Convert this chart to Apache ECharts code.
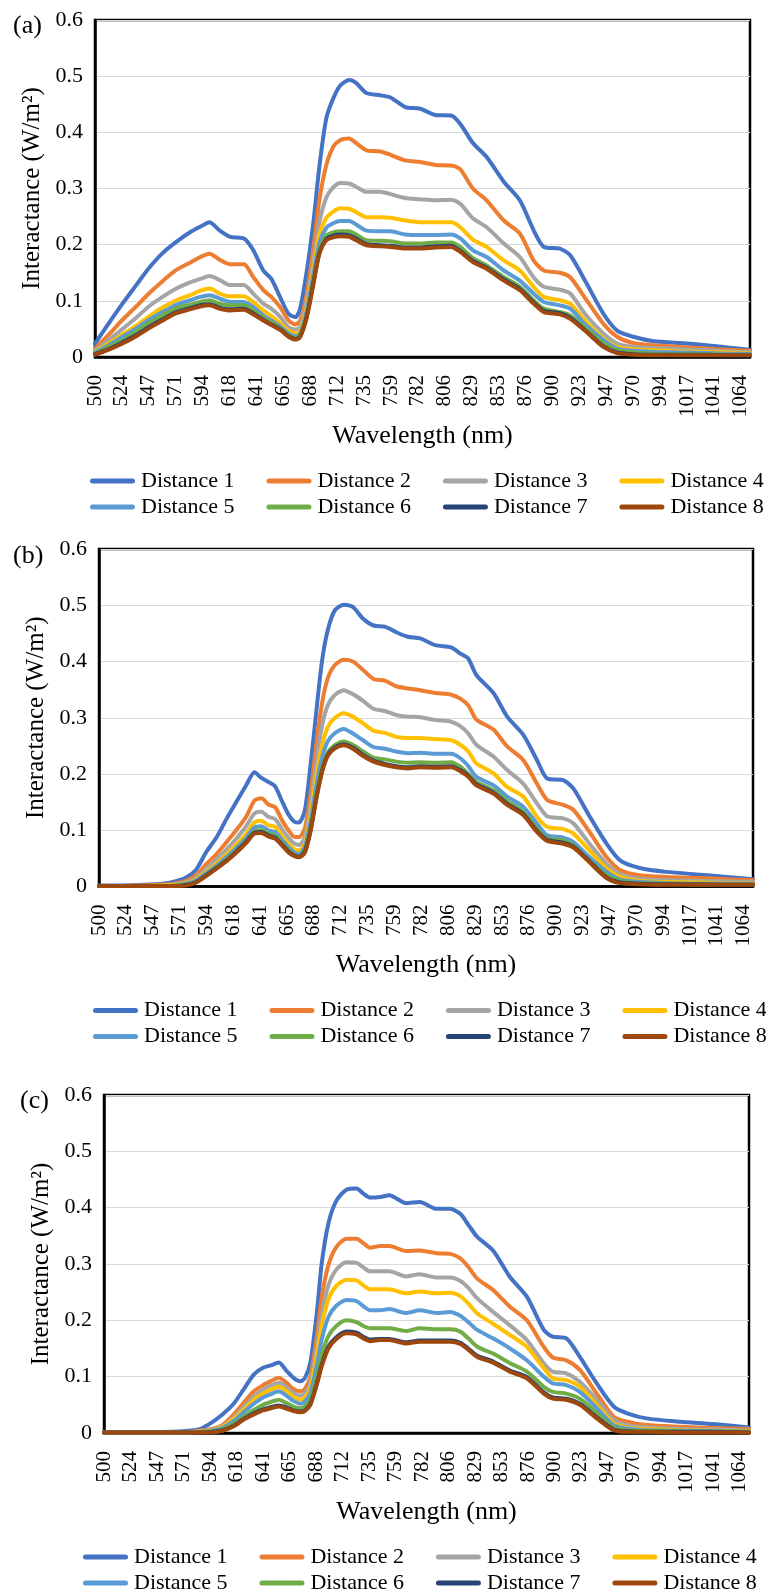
<!DOCTYPE html>
<html>
<head>
<meta charset="utf-8">
<title>Interactance spectra</title>
<script src="https://cdn.jsdelivr.net/npm/echarts@6/dist/echarts.min.js"></script>
<style>
  html, body { margin: 0; padding: 0; background: #fff; }
  #chart { width: 766px; height: 1591px; }
</style>
</head>
<body>
<div id="chart"></div>
<script>
// Axis tick labels (nm), one every 23.5 nm starting at 500
const xTickLabels = ['500','524','547','571','594','618','641','665','688','712','735','759','782',
                     '806','829','853','876','900','923','947','970','994','1017','1041','1064'];
const yTickLabels = ['0','0.1','0.2','0.3','0.4','0.5','0.6'];

const seriesNames = ['Distance 1','Distance 2','Distance 3','Distance 4',
                     'Distance 5','Distance 6','Distance 7','Distance 8'];
const seriesColors = ['#4472C4','#ED7D31','#A5A5A5','#FFC000','#5B9BD5','#70AD47','#264478','#9E480E'];

// ---------- Panel (a) ----------
const wavelengthsA = [500,512,524,536,547,559,571,583,592,600,609,618,630,638,647,654,662,669,675,679,
                      685,691,696,702,708,714,722,728,737,749,758,771,784,797,811,819,830,842,857,871,
                      883,892,906,915,929,944,956,970,988,1011,1034,1052,1072];
const a1 = [.024,.060,.095,.128,.158,.185,.205,.222,.232,.240,.225,.214,.211,.191,.154,.139,.105,.077,.071,.085,
            .154,.245,.340,.425,.460,.483,.493,.488,.470,.466,.462,.445,.442,.431,.430,.415,.381,.356,.312,.279,
            .226,.196,.193,.181,.132,.077,.047,.036,.028,.025,.021,.017,.013];
const a2 = [.015,.040,.066,.090,.113,.135,.155,.168,.178,.184,.173,.165,.165,.143,.119,.107,.088,.065,.058,.064,
            .113,.198,.280,.342,.374,.386,.389,.381,.368,.366,.360,.350,.347,.342,.341,.334,.300,.279,.243,.220,
            .172,.154,.150,.142,.102,.059,.036,.025,.021,.018,.015,.013,.011];
const a3 = [.012,.030,.050,.070,.090,.107,.122,.133,.139,.144,.137,.128,.128,.113,.095,.086,.071,.053,.049,.053,
            .101,.173,.240,.284,.302,.310,.309,.303,.294,.294,.290,.283,.281,.279,.280,.273,.247,.231,.202,.178,
            .142,.125,.120,.113,.074,.042,.024,.018,.016,.014,.012,.010,.009];
const a4 = [.009,.024,.040,.056,.072,.088,.101,.110,.118,.122,.113,.108,.108,.098,.083,.073,.060,.047,.042,.046,
            .089,.160,.218,.248,.259,.265,.264,.258,.249,.249,.248,.243,.240,.240,.240,.231,.209,.196,.172,.154,
            .125,.107,.101,.095,.062,.033,.018,.014,.012,.010,.009,.008,.007];
const a5 = [.008,.021,.036,.051,.066,.080,.093,.101,.107,.110,.104,.098,.098,.089,.074,.065,.054,.042,.037,.041,
            .083,.150,.203,.230,.238,.242,.242,.236,.225,.224,.224,.218,.217,.217,.218,.211,.190,.178,.154,.136,
            .113,.098,.092,.086,.056,.030,.015,.011,.009,.008,.007,.006,.006];
const a6 = [.006,.018,.030,.045,.060,.074,.087,.093,.098,.101,.095,.092,.092,.083,.070,.062,.051,.039,.034,.038,
            .077,.138,.190,.216,.222,.224,.224,.218,.208,.207,.206,.202,.202,.204,.204,.196,.176,.163,.142,.125,
            .101,.086,.080,.074,.050,.024,.012,.008,.006,.005,.005,.004,.004];
const a7 = [.005,.014,.026,.039,.053,.067,.080,.087,.092,.094,.088,.085,.086,.078,.066,.058,.049,.037,.032,.036,
            .073,.135,.186,.210,.216,.218,.217,.211,.201,.199,.198,.195,.195,.197,.198,.189,.171,.159,.138,.121,
            .097,.082,.078,.070,.046,.019,.008,.005,.004,.004,.004,.003,.003];
const a8 = [.004,.013,.024,.037,.051,.065,.078,.085,.090,.092,.086,.083,.084,.076,.065,.057,.048,.036,.031,.035,
            .071,.133,.184,.208,.213,.215,.214,.208,.199,.197,.196,.193,.193,.195,.196,.187,.169,.157,.136,.119,
            .095,.080,.076,.068,.045,.018,.007,.004,.003,.003,.003,.003,.003];

// ---------- Panel (b) ----------
const wavelengthsB = [500,520,540,556,568,577,585,594,603,612,620,629,636,642,648,654,660,666,671,675,
                      680,685,690,695,700,706,714,722,731,740,750,760,770,781,794,808,816,823,830,845,
                      857,871,883,892,906,915,929,944,956,973,996,1026,1049,1072];
const b1 = [.002,.002,.003,.005,.010,.017,.030,.062,.088,.122,.150,.181,.203,.193,.186,.178,.152,.127,.115,.114,
            .135,.215,.310,.400,.455,.490,.501,.497,.476,.464,.462,.452,.444,.441,.429,.425,.414,.405,.376,.344,
            .302,.270,.225,.192,.189,.174,.125,.076,.046,.033,.026,.021,.017,.013];
const b2 = [.001,.001,.002,.003,.006,.011,.020,.040,.058,.080,.100,.125,.153,.157,.146,.141,.118,.099,.088,.088,
            .103,.165,.250,.325,.370,.393,.403,.400,.385,.369,.366,.356,.352,.349,.344,.341,.334,.322,.297,.279,
            .249,.225,.183,.154,.145,.136,.097,.052,.029,.020,.017,.015,.013,.011];
const b3 = [.001,.001,.001,.002,.004,.008,.015,.032,.048,.067,.085,.108,.130,.133,.124,.120,.102,.086,.076,.074,
            .088,.143,.220,.285,.322,.340,.349,.342,.330,.316,.312,.305,.302,.301,.296,.293,.285,.272,.252,.231,
            .207,.183,.148,.125,.121,.112,.076,.040,.021,.014,.011,.010,.009,.008];
const b4 = [.001,.001,.001,.002,.003,.006,.013,.027,.041,.058,.074,.094,.114,.117,.109,.106,.090,.075,.066,.064,
            .076,.126,.195,.250,.283,.299,.308,.302,.290,.277,.273,.266,.264,.264,.262,.260,.252,.240,.219,.201,
            .177,.160,.124,.106,.102,.094,.064,.032,.017,.010,.008,.007,.006,.006];
const b5 = [.001,.001,.001,.001,.002,.005,.011,.024,.037,.053,.068,.087,.105,.107,.100,.097,.083,.069,.060,.058,
            .070,.115,.178,.228,.258,.272,.280,.272,.260,.248,.245,.240,.237,.238,.236,.236,.228,.214,.195,.180,
            .160,.142,.112,.091,.087,.079,.052,.026,.012,.008,.006,.005,.005,.005];
const b6 = [.001,.001,.001,.001,.002,.004,.009,.021,.034,.049,.063,.082,.098,.100,.094,.091,.078,.064,.056,.054,
            .065,.105,.163,.210,.238,.251,.258,.252,.240,.229,.226,.222,.220,.221,.220,.221,.213,.200,.186,.171,
            .152,.133,.103,.085,.082,.073,.046,.020,.010,.006,.005,.004,.004,.004];
const b7 = [.001,.001,.001,.001,.001,.003,.008,.020,.033,.047,.062,.080,.096,.097,.091,.087,.075,.062,.055,.053,
            .062,.100,.157,.205,.234,.247,.253,.247,.234,.224,.218,.214,.212,.214,.213,.214,.207,.197,.182,.167,
            .147,.129,.099,.083,.078,.071,.045,.016,.007,.005,.004,.004,.003,.003];
const b8 = [.001,.001,.001,.001,.001,.002,.007,.019,.032,.046,.060,.078,.094,.095,.089,.085,.073,.060,.054,.052,
            .060,.098,.155,.203,.232,.245,.251,.245,.232,.222,.216,.212,.210,.212,.211,.212,.205,.195,.180,.165,
            .145,.127,.097,.081,.076,.069,.043,.015,.006,.004,.003,.003,.003,.003];

// ---------- Panel (c) ----------
const wavelengthsC = [500,530,560,575,585,595,605,615,624,633,641,648,655,662,668,674,678,683,689,693,
                      699,706,715,724,730,736,745,753,768,780,795,807,816,823,831,845,860,875,890,898,
                      910,922,937,952,964,981,1011,1040,1072];
const c1 = [.001,.001,.002,.004,.007,.018,.033,.052,.078,.104,.116,.120,.125,.110,.098,.092,.097,.125,.218,.300,
            .372,.412,.432,.434,.425,.418,.419,.422,.408,.410,.398,.398,.389,.370,.348,.324,.277,.242,.183,.171,
            .168,.135,.088,.047,.035,.026,.020,.016,.010];
const c2 = [.001,.001,.001,.002,.004,.007,.014,.033,.054,.074,.085,.092,.098,.089,.078,.074,.078,.100,.175,.240,
            .298,.330,.345,.345,.337,.329,.332,.332,.323,.324,.319,.318,.310,.295,.274,.254,.224,.200,.153,.134,
            .129,.112,.070,.029,.020,.014,.011,.009,.007];
const c3 = [.001,.001,.001,.002,.003,.006,.012,.028,.047,.065,.077,.084,.089,.081,.071,.066,.070,.089,.155,.210,
            .262,.290,.303,.302,.294,.287,.287,.287,.278,.282,.276,.276,.270,.258,.239,.215,.191,.165,.124,.109,
            .106,.091,.059,.023,.014,.010,.007,.006,.004];
const c4 = [.001,.001,.001,.001,.003,.005,.011,.025,.042,.059,.070,.077,.082,.074,.064,.059,.063,.080,.140,.190,
            .237,.261,.272,.271,.262,.255,.255,.255,.248,.251,.248,.249,.243,.230,.212,.194,.174,.153,.115,.097,
            .094,.082,.050,.017,.010,.007,.005,.004,.003];
const c5 = [.001,.001,.001,.001,.002,.004,.009,.021,.037,.052,.063,.069,.074,.066,.057,.052,.056,.071,.122,.165,
            .206,.226,.236,.234,.225,.218,.218,.220,.213,.218,.213,.215,.208,.197,.183,.168,.150,.129,.100,.088,
            .085,.073,.044,.014,.008,.005,.004,.003,.002];
const c6 = [.001,.001,.001,.001,.002,.003,.007,.016,.029,.041,.050,.055,.059,.053,.047,.044,.047,.060,.102,.138,
            .172,.190,.200,.197,.190,.186,.186,.186,.181,.186,.184,.184,.180,.168,.153,.141,.124,.109,.082,.073,
            .070,.061,.035,.010,.005,.004,.003,.002,.002];
const c7 = [.001,.001,.001,.001,.001,.002,.005,.013,.025,.035,.042,.046,.049,.045,.040,.038,.040,.052,.090,.121,
            .153,.170,.180,.178,.171,.166,.167,.167,.161,.164,.164,.164,.160,.150,.137,.127,.111,.099,.072,.063,
            .061,.052,.028,.006,.003,.002,.002,.002,.001];
const c8 = [.001,.001,.001,.001,.001,.001,.004,.012,.024,.033,.040,.044,.047,.043,.039,.037,.039,.050,.088,.118,
            .150,.167,.177,.175,.168,.163,.165,.165,.159,.162,.162,.162,.158,.148,.135,.125,.109,.097,.070,.061,
            .059,.050,.026,.005,.002,.002,.001,.001,.001];

const panels = [
  { tag: '(a)', wl: wavelengthsA, vals: [a1,a2,a3,a4,a5,a6,a7,a8] },
  { tag: '(b)', wl: wavelengthsB, vals: [b1,b2,b3,b4,b5,b6,b7,b8] },
  { tag: '(c)', wl: wavelengthsC, vals: [c1,c2,c3,c4,c5,c6,c7,c8] }
];

// Plot rectangles for the three stacked panels
const gridBoxes = [
  { left: 95,  top: 20,   width: 655, height: 337 },
  { left: 99,  top: 549,  width: 654, height: 337.5 },
  { left: 104, top: 1095, width: 645, height: 338 }
];
const tagPos = [ { x: 13, y: 13 }, { x: 13, y: 543 }, { x: 20, y: 1088 } ];
const legendLeft = [85, 88, 78];

const FONT = "'Liberation Serif', 'Times New Roman', serif";
const X_MIN = 500, X_MAX = 1072, X_STEP = 23.5;

const grids = [], xAxes = [], yAxes = [], series = [], legends = [], graphics = [];

panels.forEach((p, pi) => {
  const g = gridBoxes[pi];
  grids.push(Object.assign({ show: true, borderColor: '#000', borderWidth: 2.5,
                             backgroundColor: 'transparent', containLabel: false }, g));

  xAxes.push({
    gridIndex: pi, type: 'value', min: X_MIN, max: X_MAX, interval: X_STEP,
    name: 'Wavelength (nm)', nameLocation: 'middle', nameGap: 66,
    nameTextStyle: { fontFamily: FONT, fontSize: 26, color: '#000' },
    axisLine: { show: true, lineStyle: { color: '#000', width: 2.5 } },
    axisTick: { show: false },
    splitLine: { show: false },
    axisLabel: {
      rotate: 90, margin: 18, fontFamily: FONT, fontSize: 21, color: '#000',
      showMaxLabel: false,
      formatter: v => {
        const k = Math.round((v - X_MIN) / X_STEP);
        return (Math.abs(X_MIN + k * X_STEP - v) < 1e-6 && k < xTickLabels.length) ? xTickLabels[k] : '';
      }
    }
  });

  yAxes.push({
    gridIndex: pi, type: 'value', min: 0, max: 0.6, interval: 0.1,
    name: 'Interactance (W/m\u00B2)', nameLocation: 'middle', nameGap: 50,
    nameTextStyle: { fontFamily: FONT, fontSize: 25, color: '#000' },
    axisLine: { show: true, lineStyle: { color: '#000', width: 2.5 } },
    axisTick: { show: false },
    splitLine: { show: true, lineStyle: { color: '#D9D9D9', width: 1.2 } },
    axisLabel: {
      margin: 12, fontFamily: FONT, fontSize: 22, color: '#000',
      formatter: v => yTickLabels[Math.round(v * 10)]
    }
  });

  p.vals.forEach((vals, si) => {
    series.push({
      name: seriesNames[si], type: 'line', xAxisIndex: pi, yAxisIndex: pi,
      data: p.wl.map((w, i) => [w, vals[i]]),
      showSymbol: false, symbol: 'none', smooth: 0.25,
      lineStyle: { color: seriesColors[si], width: 4, cap: 'round', join: 'round' },
      itemStyle: { color: seriesColors[si] },
      z: 2 + si
    });
  });

  const bottom = g.top + g.height;
  [seriesNames.slice(0, 4), seriesNames.slice(4)].forEach((names, row) => {
    legends.push({
      data: names, orient: 'horizontal', left: legendLeft[pi], width: 740,
      top: bottom + 108 + row * 26,
      itemWidth: 47, itemHeight: 5, itemGap: 32, selectedMode: false,
      icon: 'path://M5,0 L85,0 A5,5 0 0 1 85,10 L5,10 A5,5 0 0 1 5,0 Z',
      textStyle: { fontFamily: FONT, fontSize: 22, color: '#000', padding: [0, 0, 0, 0] }
    });
  });

  graphics.push({
    type: 'text', left: tagPos[pi].x, top: tagPos[pi].y,
    style: { text: p.tag, font: '26px ' + FONT, fill: '#000' }
  });
});

const chart = echarts.init(document.getElementById('chart'), null, { renderer: 'canvas' });
chart.setOption({
  animation: false,
  backgroundColor: '#fff',
  grid: grids, xAxis: xAxes, yAxis: yAxes,
  legend: legends, series: series, graphic: graphics
});
</script>
</body>
</html>
